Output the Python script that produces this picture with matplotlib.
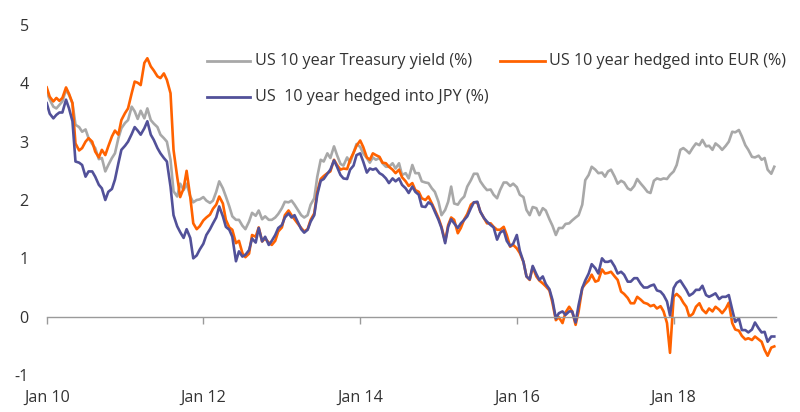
import matplotlib
matplotlib.use("Agg")
import matplotlib.pyplot as plt
from matplotlib.lines import Line2D
import pandas as pd

# Semi-monthly observation dates, Jan 2010 - Apr 2019
dates = pd.date_range("2010-01-01", periods=224, freq="SMS")

treasury = [
    3.86, 3.72, 3.60, 3.57, 3.63, 3.69, 3.89, 3.80, 3.66, 3.29, 3.25, 3.17, 3.21, 3.06, 2.96, 2.89,
    2.70, 2.72, 2.49, 2.60, 2.72, 2.80, 3.06, 3.23, 3.32, 3.37, 3.60, 3.52, 3.39, 3.53, 3.40, 3.57,
    3.37, 3.31, 3.25, 3.12, 3.06, 3.00, 2.69, 2.15, 2.06, 2.28, 2.17, 2.28, 2.06, 1.96, 2.00, 2.01,
    2.05, 1.99, 1.95, 1.99, 2.14,
    2.32, 2.20, 2.06, 1.89, 1.72, 1.66, 1.66, 1.56, 1.50, 1.63, 1.78, 1.73, 1.82, 1.67, 1.72, 1.66,
    1.66, 1.70, 1.76, 1.86, 1.97, 1.96, 1.99, 1.92, 1.84, 1.74, 1.70, 1.74, 1.92, 2.03, 2.40, 2.69,
    2.66, 2.80, 2.72, 2.92, 2.77, 2.62, 2.59, 2.73, 2.64, 2.81, 2.96, 2.91, 2.80, 2.72, 2.64, 2.73,
    2.69, 2.72, 2.63, 2.57, 2.57, 2.63, 2.54, 2.63, 2.43, 2.46, 2.37, 2.60, 2.46,
    2.46, 2.32, 2.30, 2.29, 2.20, 2.14, 1.97, 1.74, 1.83, 1.97, 2.23, 1.94, 1.92, 2.00, 2.06, 2.23,
    2.34, 2.45, 2.45, 2.32, 2.23, 2.17, 2.18, 2.09, 2.03, 2.17, 2.30, 2.30, 2.24, 2.28, 2.22, 2.09,
    2.05, 1.83, 1.74, 1.88, 1.86, 1.74, 1.86, 1.82, 1.67, 1.56, 1.40, 1.52, 1.52, 1.59, 1.60, 1.65,
    1.70, 1.74, 1.92, 2.34, 2.43, 2.57, 2.52, 2.46,
    2.47, 2.40, 2.49, 2.52, 2.40, 2.28, 2.33, 2.30, 2.20, 2.17, 2.24, 2.36, 2.28, 2.22, 2.14, 2.12,
    2.33, 2.37, 2.35, 2.37, 2.36, 2.43, 2.49, 2.60, 2.86, 2.89, 2.85, 2.80, 2.90, 2.97, 2.94, 3.03,
    2.92, 2.93, 2.86, 2.97, 2.92, 2.86, 2.93, 3.00, 3.17, 3.16, 3.20, 3.09, 2.94, 2.86, 2.74, 2.73,
    2.76, 2.69, 2.72, 2.52, 2.45, 2.57,
]

hedged_eur = [
    3.93, 3.77, 3.69, 3.75, 3.70, 3.75, 3.93, 3.82, 3.66, 2.97, 2.85, 2.89, 3.00, 3.06, 3.00, 2.83,
    2.73, 2.86, 2.77, 2.92, 3.09, 3.19, 3.12, 3.37, 3.49, 3.57, 3.83, 4.03, 4.01, 3.97, 4.35, 4.43,
    4.29, 4.22, 4.12, 4.09, 4.17, 4.06, 3.83, 2.86, 2.40, 2.05, 2.20, 2.50, 2.05, 1.60, 1.50, 1.55,
    1.65, 1.70, 1.75, 1.85, 1.92,
    2.06, 1.94, 1.66, 1.53, 1.49, 1.26, 1.30, 1.09, 1.02, 1.08, 1.40, 1.37, 1.53, 1.29, 1.34, 1.27,
    1.23, 1.30, 1.46, 1.53, 1.74, 1.82, 1.74, 1.67, 1.60, 1.52, 1.46, 1.50, 1.66, 1.77, 2.14, 2.36,
    2.41, 2.46, 2.49, 2.69, 2.60, 2.52, 2.54, 2.53, 2.69, 2.81, 2.93, 3.02, 2.91, 2.73, 2.69, 2.80,
    2.77, 2.74, 2.64, 2.63, 2.57, 2.52, 2.46, 2.52, 2.39, 2.32, 2.24, 2.29, 2.17,
    2.14, 2.03, 2.00, 2.06, 1.94, 1.83, 1.69, 1.54, 1.29, 1.57, 1.70, 1.66, 1.43, 1.52, 1.67, 1.76,
    1.92, 1.96, 1.96, 1.80, 1.69, 1.60, 1.60, 1.54, 1.49, 1.49, 1.54, 1.40, 1.20, 1.23, 1.17, 1.09,
    0.94, 0.69, 0.63, 0.85, 0.69, 0.62, 0.57, 0.52, 0.45, 0.24, -0.06, -0.01, -0.11, 0.07, 0.17, 0.09,
    -0.14, 0.09, 0.49, 0.56, 0.62, 0.72, 0.60, 0.62,
    0.81, 0.74, 0.75, 0.77, 0.69, 0.63, 0.43, 0.39, 0.32, 0.23, 0.23, 0.34, 0.29, 0.24, 0.22, 0.18,
    0.20, 0.14, 0.18, 0.09, -0.11, -0.62, 0.34, 0.39, 0.33, 0.24, 0.17, 0.00, 0.05, 0.17, 0.23, 0.12,
    0.06, 0.14, 0.09, 0.17, 0.12, 0.06, 0.14, 0.24, -0.11, -0.22, -0.24, -0.33, -0.39, -0.37, -0.40, -0.34,
    -0.39, -0.43, -0.57, -0.67, -0.53, -0.51,
]

hedged_jpy = [
    3.66, 3.48, 3.40, 3.46, 3.50, 3.50, 3.72, 3.57, 3.35, 2.66, 2.64, 2.60, 2.40, 2.49, 2.49, 2.40,
    2.26, 2.20, 2.00, 2.14, 2.19, 2.35, 2.63, 2.86, 2.93, 3.00, 3.13, 3.25, 3.19, 3.12, 3.23, 3.35,
    3.12, 3.03, 2.89, 2.80, 2.72, 2.66, 2.23, 1.74, 1.55, 1.45, 1.35, 1.50, 1.35, 1.00, 1.05, 1.15,
    1.25, 1.40, 1.50, 1.60, 1.70,
    1.89, 1.72, 1.54, 1.49, 1.37, 0.95, 1.12, 1.03, 1.06, 1.14, 1.34, 1.27, 1.52, 1.29, 1.37, 1.23,
    1.30, 1.40, 1.52, 1.57, 1.70, 1.77, 1.70, 1.74, 1.63, 1.50, 1.44, 1.49, 1.63, 1.74, 2.09, 2.33,
    2.36, 2.45, 2.52, 2.68, 2.57, 2.43, 2.37, 2.36, 2.52, 2.59, 2.77, 2.80, 2.66, 2.47, 2.54, 2.52,
    2.54, 2.46, 2.43, 2.37, 2.29, 2.37, 2.32, 2.37, 2.26, 2.20, 2.12, 2.23, 2.14,
    2.09, 1.89, 1.88, 1.96, 1.92, 1.80, 1.66, 1.52, 1.26, 1.54, 1.67, 1.60, 1.52, 1.60, 1.66, 1.72,
    1.86, 1.96, 1.97, 1.80, 1.69, 1.63, 1.57, 1.53, 1.32, 1.44, 1.48, 1.30, 1.21, 1.25, 1.40, 1.13,
    0.94, 0.69, 0.64, 0.87, 0.73, 0.63, 0.69, 0.56, 0.47, 0.29, -0.03, 0.06, 0.09, 0.03, 0.09, 0.09,
    -0.10, 0.20, 0.49, 0.62, 0.74, 0.90, 0.83, 0.74,
    1.00, 0.94, 0.94, 0.96, 0.86, 0.74, 0.77, 0.72, 0.60, 0.60, 0.66, 0.66, 0.56, 0.50, 0.50, 0.53,
    0.55, 0.45, 0.43, 0.37, 0.26, 0.02, 0.49, 0.58, 0.62, 0.54, 0.46, 0.36, 0.40, 0.46, 0.46, 0.53,
    0.37, 0.34, 0.37, 0.40, 0.30, 0.34, 0.34, 0.37, 0.12, -0.09, -0.03, -0.23, -0.23, -0.27, -0.22, -0.10,
    -0.20, -0.27, -0.26, -0.43, -0.34, -0.34,
]

series_labels = [
    "US 10 year Treasury yield (%)",
    "US 10 year hedged into EUR (%)",
    "US  10 year hedged into JPY (%)",
]
x_tick_dates = ["2010-01-01", "2012-01-01", "2014-01-01", "2016-01-01", "2018-01-01"]
x_tick_labels = ["Jan 10", "Jan 12", "Jan 14", "Jan 16", "Jan 18"]
y_ticks = [-1, 0, 1, 2, 3, 4, 5]

GRAY = "#A8A8A8"
ORANGE = "#FF6200"
BLUE = "#525199"
TEXT = "#333333"
AXIS = "#9A9A9A"
FS = 11.6

plt.rcParams["font.family"] = ["Open Sans", "DejaVu Sans"]

fig = plt.figure(figsize=(8.0, 4.12), dpi=100)
ax = fig.add_axes([0.0584, 0.0898, 0.9116, 0.8495])

ax.plot(dates, treasury, color=GRAY, lw=1.9, solid_joinstyle="round")
ax.plot(dates, hedged_eur, color=ORANGE, lw=1.9, solid_joinstyle="round")
ax.plot(dates, hedged_jpy, color=BLUE, lw=1.9, solid_joinstyle="round")

ax.set_ylim(-1, 5)
ax.set_xlim(pd.Timestamp("2010-01-01"), pd.Timestamp("2019-04-23"))
ax.set_yticks(y_ticks)
ax.set_yticklabels([str(v) for v in y_ticks])
ax.tick_params(axis="y", length=0, pad=13, labelsize=FS, labelcolor=TEXT)

for s in ["top", "right", "left"]:
    ax.spines[s].set_visible(False)
ax.spines["bottom"].set_position(("data", 0))
ax.spines["bottom"].set_color(AXIS)
ax.spines["bottom"].set_linewidth(1.0)

tick_pos = [pd.Timestamp(d) for d in x_tick_dates]
ax.set_xticks(tick_pos)
ax.tick_params(axis="x", direction="out", length=5, width=1.0, color=AXIS,
               labelbottom=False)
for d, lab in zip(tick_pos, x_tick_labels):
    ax.text(d, -0.065, lab, transform=ax.get_xaxis_transform(), ha="center",
            va="center", fontsize=FS, color=TEXT)

# Legend drawn manually to match the reference layout
legend_rows = [
    (0.259, 0.3125, 0.319, 1 - 61 / 412, GRAY, series_labels[0]),
    (0.625, 0.681, 0.686, 1 - 61 / 412, ORANGE, series_labels[1]),
    (0.259, 0.3125, 0.319, 1 - 97 / 412, BLUE, series_labels[2]),
]
for x0, x1, xt, yy, col, lab in legend_rows:
    fig.add_artist(Line2D([x0, x1], [yy, yy], transform=fig.transFigure, color=col, lw=2.0))
    fig.text(xt, yy, lab, ha="left", va="center", fontsize=FS, color=TEXT)

fig.savefig("out.png", dpi=100)
